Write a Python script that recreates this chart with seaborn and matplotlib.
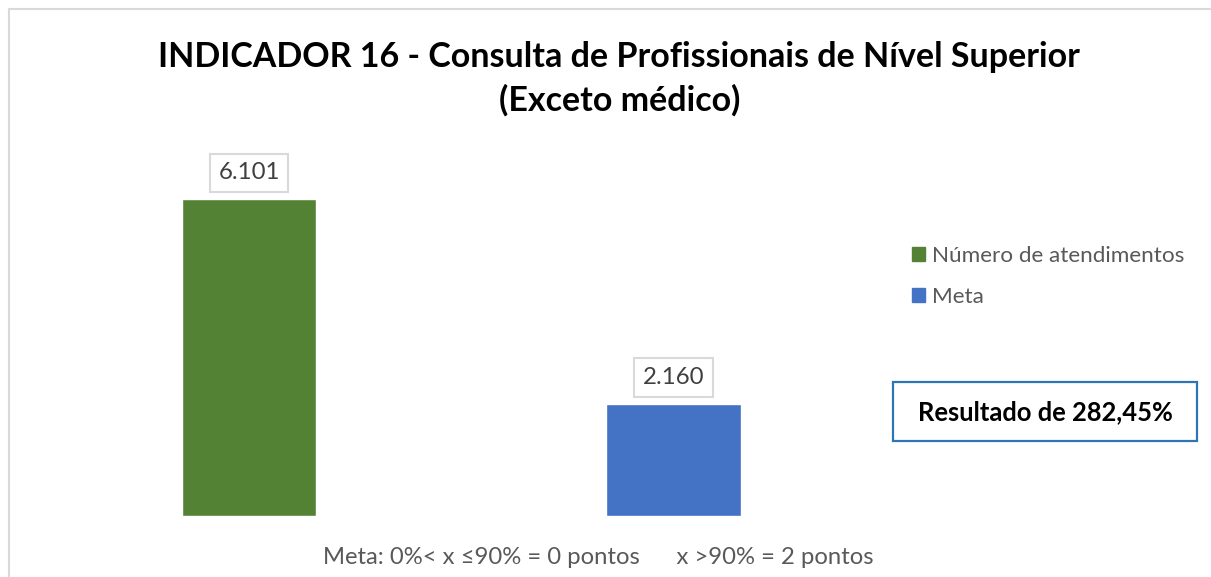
import matplotlib
matplotlib.use("Agg")
import matplotlib.pyplot as plt
import seaborn as sns
from matplotlib.patches import Patch
from matplotlib.lines import Line2D

categories = ["Número de atendimentos", "Meta"]
values = [6101, 2160]
value_labels = ["6.101", "2.160"]
colors = ["#548235", "#4472C4"]
title_lines = ["INDICADOR 16 - Consulta de Profissionais de Nível Superior", "(Exceto médico)"]
result_text = "Resultado de 282,45%"
footer_text = "Meta: 0%< x ≤90% = 0 pontos      x >90% = 2 pontos"

sns.set_theme(style="white")
plt.rcParams["font.family"] = ["Lato", "DejaVu Sans"]

W, H = 1211, 577
fig = plt.figure(figsize=(W / 100, H / 100), dpi=100)
fig.patch.set_facecolor("white")

def fx(px):
    return px / W

def fy(py):
    return 1 - py / H

ax = fig.add_axes([fx(36.75), fy(516), fx(885.75) - fx(36.75), fy(152.7) - fy(516)])
sns.barplot(x=categories, y=values, hue=categories, palette=colors, width=0.316,
            legend=False, ax=ax, saturation=1)
ax.set_xlim(-0.5, 1.5)
ax.set_ylim(0, 7000)
ax.axis("off")

for i, (v, lab) in enumerate(zip(values, value_labels)):
    ax.annotate(lab, xy=(i, v), xytext=(0, 19), textcoords="offset points",
                ha="center", va="center", fontsize=17.3, color="#404040",
                bbox=dict(boxstyle="square,pad=0.36", fc="white", ec="#D9D9D9", lw=1.5))

handles = [Patch(facecolor=c, edgecolor=c) for c in colors]
leg = ax.legend(handles, categories, loc="center left",
                bbox_to_anchor=(fx(912), fy(276.5)), bbox_transform=fig.transFigure,
                frameon=False, fontsize=16.2, handlelength=0.58, handleheight=0.58,
                handletextpad=0.3, labelspacing=0.95, borderpad=0, borderaxespad=0)
for t in leg.get_texts():
    t.set_color("#595959")

fig.text(fx(619), fy(57), title_lines[0], ha="center", va="center",
         fontsize=24.5, fontweight="bold", color="black")
fig.text(fx(620), fy(100), title_lines[1], ha="center", va="center",
         fontsize=24.5, fontweight="bold", color="black")

fig.text(fx(1045), fy(412), result_text, ha="center", va="center",
         fontsize=18.4, fontweight="bold", color="black")
fig.add_artist(plt.Rectangle((fx(893), fy(441)), fx(1197) - fx(893), fy(382) - fy(441),
                             transform=fig.transFigure, fill=False, ec="#2E75B6", lw=1.6))

fig.text(fx(598.5), fy(557), footer_text, ha="center", va="center",
         fontsize=17.2, color="#595959")

fig.add_artist(Line2D([fx(8.5), fx(8.5)], [0, fy(9)], transform=fig.transFigure,
                      color="#D9D9D9", lw=1.5))
fig.add_artist(Line2D([fx(8.5), 1], [fy(9), fy(9)], transform=fig.transFigure,
                      color="#D9D9D9", lw=1.5))

fig.savefig("out.png", dpi=100, facecolor="white")
